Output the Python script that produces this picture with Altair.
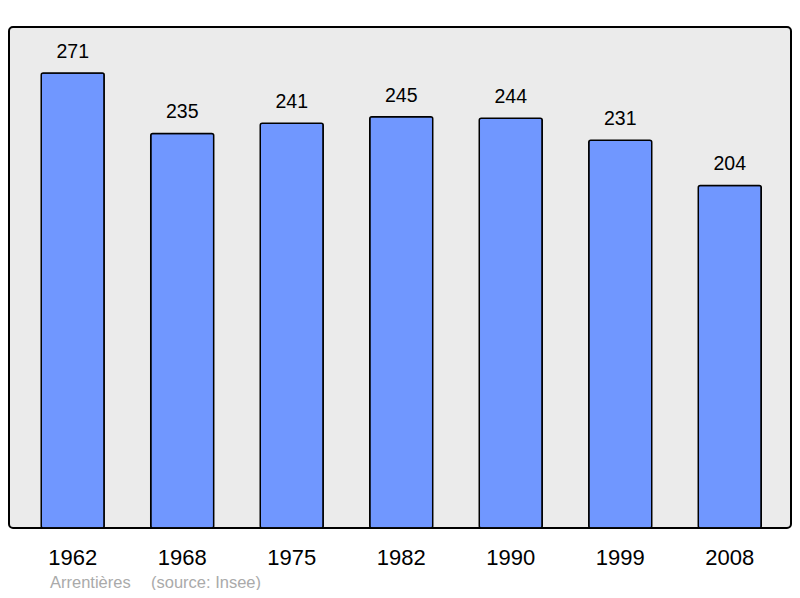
import altair as alt
import pandas as pd

years = ["1962", "1968", "1975", "1982", "1990", "1999", "2008"]
population = [271, 235, 241, 245, 244, 231, 204]
source_texts = ["Arrentières", "(source: Insee)"]
source_x = [41, 142]

df = pd.DataFrame({"year": years, "pop": population})
src = pd.DataFrame({"t": source_texts, "x": source_x})

FONT = "Liberation Sans"

x = alt.X("year:N", sort=years, title=None,
          scale=alt.Scale(paddingInner=0.425, paddingOuter=0.283, align=0.52),
          axis=alt.Axis(domain=False, ticks=False, tickSize=0, labelAngle=0,
                        labelFontSize=22, labelFont=FONT, labelColor="#000000",
                        labelBaseline="alphabetic", labelPadding=36))
y = alt.Y("pop:Q", title=None, scale=alt.Scale(domain=[0, 298.4], nice=False, zero=True),
          axis=None)

bars = alt.Chart(df).mark_bar(color="#7097ff", stroke="#000000", strokeWidth=1.5,
                              cornerRadius=2).encode(x=x, y=y)
labels = alt.Chart(df).mark_text(fontSize=19.5, font=FONT, color="#000000",
                                 baseline="alphabetic", dy=-15).encode(
    x=alt.X("year:N", sort=years), y="pop:Q", text="pop:Q")
source = alt.Chart(src).mark_text(fontSize=16.5, font=FONT, color="#aaaaaa",
                                  align="left", baseline="alphabetic").encode(
    x=alt.X("x:Q", scale=None), y=alt.value(561), text="t:N")

chart = alt.layer(bars, labels, source).properties(
    width=782, height=501,
    padding={"left": 1, "top": 19, "right": 1, "bottom": 62},
    autosize=alt.AutoSizeParams(type="none"),
    background="#ffffff",
).configure_view(
    fill="#ebebeb", stroke="#000000", strokeWidth=2, cornerRadius=4
)

chart.save("out.html", embed_options={"renderer": "svg", "actions": False})
